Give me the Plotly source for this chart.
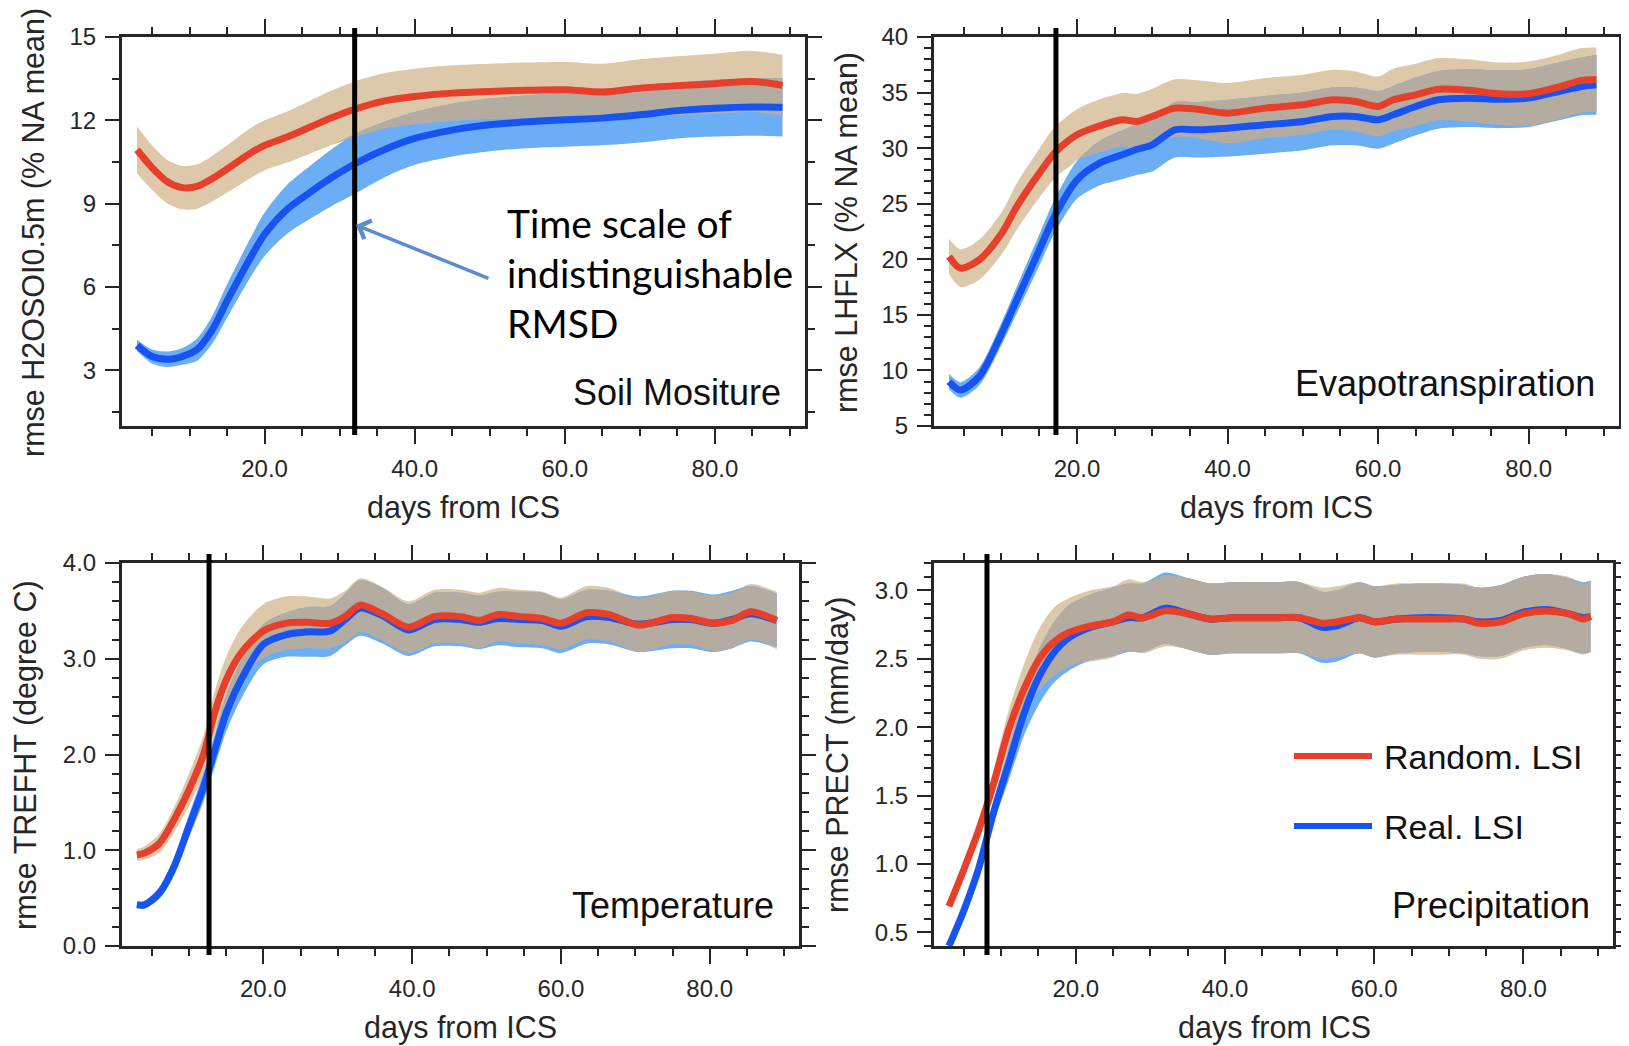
import numpy as np
import plotly.graph_objects as go

W, H = 1629, 1046
OFF = 8                      # default page margin of the html body
FW, FH = W - OFF, H - OFF    # figure size so that it fits the window

# ---------------- data ----------------
# Panel 1: Soil moisture
sm_days = [3, 5, 7, 9, 11, 13, 15, 18, 20, 23, 26, 29, 32, 36, 40, 45, 50, 55, 60, 65, 70, 75, 80, 85, 89]
sm_random = [10.94, 10.3, 9.8, 9.58, 9.62, 9.9, 10.25, 10.8, 11.1, 11.4, 11.75, 12.1, 12.4, 12.7, 12.86, 12.98,
             13.04, 13.08, 13.1, 13.02, 13.16, 13.25, 13.32, 13.4, 13.26]
sm_random_spread = [0.85, 0.8, 0.78, 0.78, 0.8, 0.82, 0.85, 0.9, 0.9, 0.92, 0.95, 0.98, 1.0, 1.0, 1.0, 1.0,
                    1.0, 1.0, 1.0, 1.02, 1.04, 1.06, 1.08, 1.1, 1.1]
sm_real = [3.9, 3.5, 3.4, 3.5, 3.75, 4.45, 5.5, 7.0, 7.9, 8.8, 9.4, 9.95, 10.43, 10.95, 11.35, 11.65,
           11.84, 11.95, 12.02, 12.08, 12.2, 12.35, 12.44, 12.48, 12.47]
sm_real_spread = [0.2, 0.25, 0.28, 0.3, 0.4, 0.5, 0.6, 0.7, 0.78, 0.88, 0.95, 1.02, 1.08, 1.0, 0.95, 0.95,
                  0.95, 0.95, 0.97, 0.98, 1.0, 1.0, 1.02, 1.03, 1.05]

# Panel 2: Evapotranspiration
et_days = [3, 4.5, 7, 10, 12, 15, 17, 20, 23, 26, 28, 30, 33, 36, 40, 45, 50, 54, 57, 60, 62, 65, 68, 72,
           76, 80, 84, 87, 89]
et_random = [20.25, 19.2, 19.95, 22.35, 24.75, 27.75, 29.55, 31.2, 32.0, 32.55, 32.4, 32.85, 33.6, 33.5,
             33.15, 33.6, 33.9, 34.35, 34.2, 33.75, 34.35, 34.8, 35.3, 35.2, 34.9, 34.9, 35.5, 36.1, 36.15]
et_random_spread = [1.6, 1.7, 1.8, 1.9, 2.1, 2.2, 2.3, 2.3, 2.4, 2.4, 2.5, 2.5, 2.6, 2.6, 2.7, 2.7, 2.7,
                    2.7, 2.7, 2.7, 2.8, 2.8, 2.8, 2.8, 2.8, 2.9, 2.9, 2.9, 2.9]
et_real = [9.0, 8.24, 9.44, 13.35, 16.35, 20.85, 23.85, 27.15, 28.65, 29.4, 29.9, 30.3, 31.65, 31.65,
           31.8, 32.1, 32.4, 32.85, 32.85, 32.55, 33.0, 33.75, 34.35, 34.5, 34.4, 34.5, 35.1, 35.55, 35.7]
et_real_spread = [0.7, 0.7, 0.8, 1.0, 1.2, 1.4, 1.5, 1.7, 2.0, 2.2, 2.3, 2.4, 2.5, 2.5, 2.55, 2.6, 2.6,
                  2.6, 2.6, 2.6, 2.6, 2.6, 2.6, 2.6, 2.6, 2.6, 2.6, 2.6, 2.7]

# Panel 3: Temperature
t_days = [3, 4, 6, 8, 10, 12, 13.5, 15, 17, 20, 23, 26, 29, 31, 33, 36, 39.5, 43, 46.5, 49, 51.5, 54.5,
          57.5, 60, 63.5, 66.5, 70.5, 75, 77.5, 80.5, 83, 85.5, 89]
t_random = [0.95, 0.97, 1.07, 1.32, 1.63, 2.01, 2.45, 2.78, 3.06, 3.29, 3.37, 3.38, 3.37, 3.44, 3.56, 3.47,
            3.33, 3.44, 3.44, 3.40, 3.46, 3.44, 3.42, 3.37, 3.48, 3.46, 3.35, 3.43, 3.42, 3.37, 3.40, 3.49, 3.40]
t_random_spread = [0.06, 0.07, 0.1, 0.13, 0.17, 0.2, 0.22, 0.24, 0.26, 0.28, 0.28, 0.27, 0.26, 0.27, 0.28,
                   0.28, 0.27, 0.28, 0.28, 0.29, 0.28, 0.28, 0.28, 0.27, 0.28, 0.28, 0.28, 0.28, 0.28,
                   0.29, 0.29, 0.29, 0.3]
t_real = [0.43, 0.43, 0.55, 0.83, 1.25, 1.67, 2.05, 2.43, 2.78, 3.15, 3.25, 3.28, 3.29, 3.41, 3.53, 3.45,
          3.30, 3.41, 3.41, 3.38, 3.42, 3.41, 3.40, 3.34, 3.44, 3.43, 3.36, 3.41, 3.41, 3.37, 3.41, 3.47, 3.40]
t_real_spread = [0.03, 0.04, 0.06, 0.09, 0.12, 0.15, 0.17, 0.19, 0.2, 0.21, 0.23, 0.26, 0.26, 0.27, 0.29,
                 0.29, 0.27, 0.28, 0.28, 0.28, 0.28, 0.29, 0.29, 0.28, 0.28, 0.28, 0.29, 0.3, 0.3, 0.3,
                 0.3, 0.29, 0.28]

# Panel 4: Precipitation
p_days = [3, 5, 7, 9, 11, 13, 15, 17, 19, 22, 25, 27, 29, 32, 35, 38, 41, 44, 47, 50, 53, 55, 58, 60, 63,
          66, 69, 72, 74, 77, 80, 83, 86, 88, 89]
p_random = [0.69, 0.96, 1.25, 1.59, 1.98, 2.27, 2.49, 2.62, 2.69, 2.74, 2.77, 2.82, 2.80, 2.85, 2.83, 2.79,
            2.80, 2.80, 2.80, 2.80, 2.76, 2.77, 2.80, 2.77, 2.79, 2.79, 2.79, 2.79, 2.76, 2.77, 2.83, 2.85,
            2.83, 2.79, 2.81]
p_random_spread = [0.01, 0.03, 0.06, 0.1, 0.14, 0.18, 0.22, 0.25, 0.25, 0.26, 0.26, 0.26, 0.26, 0.26, 0.26,
                   0.26, 0.26, 0.26, 0.26, 0.26, 0.26, 0.26, 0.26, 0.26, 0.26, 0.26, 0.26, 0.26, 0.26, 0.27,
                   0.27, 0.27, 0.27, 0.26, 0.26]
p_real = [0.40, 0.66, 0.97, 1.38, 1.73, 2.09, 2.36, 2.54, 2.65, 2.73, 2.77, 2.80, 2.80, 2.87, 2.83, 2.79,
          2.80, 2.80, 2.80, 2.80, 2.73, 2.74, 2.80, 2.77, 2.79, 2.80, 2.80, 2.79, 2.77, 2.78, 2.84, 2.86,
          2.83, 2.80, 2.81]
p_real_spread = [0.01, 0.03, 0.05, 0.08, 0.12, 0.16, 0.2, 0.22, 0.24, 0.24, 0.25, 0.25, 0.25, 0.26, 0.26,
                 0.26, 0.26, 0.26, 0.26, 0.26, 0.26, 0.26, 0.26, 0.26, 0.25, 0.25, 0.25, 0.25, 0.25, 0.26,
                 0.26, 0.26, 0.26, 0.26, 0.26]

threshold_days = [32, 17.2, 12.7, 8.1]
panel_names = ["Soil Mositure", "Evapotranspiration", "Temperature", "Precipitation"]
y_titles = ["rmse H2OSOI0.5m (% NA mean)", "rmse LHFLX (% NA mean)",
            "rmse TREFHT (degree C)", "rmse PRECT (mm/day)"]
x_title = "days from ICS"
legend_labels = ["Random. LSI", "Real. LSI"]
note_lines = ["Time scale of", "indistinguishable", "RMSD"]

# ---------------- styling ----------------
FONT = "Liberation Sans, Arial, Helvetica, sans-serif"
RED = "#E63F2A"
BLUE = "#1653F2"
TAN = "#DDC9A9"
LBLUE = "#6BAEF5"
GREY = "#B4ABA1"
AX = "#262626"

panels = [
    dict(days=sm_days, r=sm_random, rs=sm_random_spread, b=sm_real, bs=sm_real_spread,
         dom=(122, 805, 37, 426), yr=[1, 15], dt=3, mdt=1.5, fmt="d",
         ytl=(34, 233), xtl=(464, 507), lab=(783, 392)),
    dict(days=et_days, r=et_random, rs=et_random_spread, b=et_real, bs=et_real_spread,
         dom=(934, 1619, 37, 426), yr=[5, 40], dt=5, mdt=1, fmt="d",
         ytl=(847, 232), xtl=(1276, 507), lab=(1597, 383)),
    dict(days=t_days, r=t_random, rs=t_random_spread, b=t_real, bs=t_real_spread,
         dom=(122, 799, 563, 946), yr=[0, 4], dt=1, mdt=0.2, fmt=".1f",
         ytl=(25, 755), xtl=(460, 1027), lab=(776, 905)),
    dict(days=p_days, r=p_random, rs=p_random_spread, b=p_real, bs=p_real_spread,
         dom=(934, 1613, 563, 946), yr=[0.4, 3.2], dt=0.5, mdt=0.1, fmt=".1f",
         ytl=(837, 755), xtl=(1274, 1027), lab=(1592, 905)),
]


def px(x):
    return (x - OFF) / FW


def py(y):
    return 1 - (y - OFF) / FH


fig = go.Figure()
layout = dict(width=FW, height=FH, margin=dict(l=0, r=0, t=0, b=0, pad=0), autosize=False,
              paper_bgcolor="white", plot_bgcolor="white", showlegend=False,
              font=dict(family=FONT, color=AX))
annotations = []
shapes = []

for i, p in enumerate(panels):
    n = i + 1
    xa = "x" if n == 1 else f"x{n}"
    ya = "y" if n == 1 else f"y{n}"
    d = np.array(p["days"], dtype=float)
    r = np.array(p["r"]); rs = np.array(p["rs"])
    b = np.array(p["b"]); bs = np.array(p["bs"])
    r_lo, r_hi = r - rs, r + rs
    b_lo, b_hi = b - bs, b + bs
    o_lo = np.maximum(r_lo, b_lo)
    o_hi = np.minimum(r_hi, b_hi)
    o_hi = np.maximum(o_hi, o_lo)

    def band(lo, hi, color):
        fig.add_trace(go.Scatter(x=d, y=lo, xaxis=xa, yaxis=ya, mode="lines",
                                 line=dict(width=0, shape="spline", smoothing=0.8),
                                 hoverinfo="skip"))
        fig.add_trace(go.Scatter(x=d, y=hi, xaxis=xa, yaxis=ya, mode="lines",
                                 line=dict(width=0, shape="spline", smoothing=0.8),
                                 fill="tonexty", fillcolor=color, hoverinfo="skip"))

    band(r_lo, r_hi, TAN)
    band(b_lo, b_hi, LBLUE)
    band(o_lo, o_hi, GREY)
    fig.add_trace(go.Scatter(x=d, y=b, xaxis=xa, yaxis=ya, mode="lines", name=legend_labels[1],
                             line=dict(color=BLUE, width=7, shape="spline", smoothing=0.8)))
    fig.add_trace(go.Scatter(x=d, y=r, xaxis=xa, yaxis=ya, mode="lines", name=legend_labels[0],
                             line=dict(color=RED, width=7, shape="spline", smoothing=0.8)))

    x0, x1, y0, y1 = p["dom"]
    common = dict(showline=True, linewidth=3, linecolor=AX, mirror="ticks", ticks="outside",
                  tickwidth=2, tickcolor=AX, showgrid=False, zeroline=False, automargin=False,
                  tickfont=dict(family=FONT, size=24, color=AX))
    layout["xaxis" if n == 1 else f"xaxis{n}"] = dict(
        common, domain=[px(x0), px(x1)], anchor=ya, range=[1, 92], tick0=0, dtick=20,
        tickformat=".1f", ticklen=15, ticklabelstandoff=4,
        minor=dict(ticks="outside", dtick=5, tick0=0, ticklen=7, tickwidth=1.5, tickcolor=AX))
    layout["yaxis" if n == 1 else f"yaxis{n}"] = dict(
        common, domain=[py(y1), py(y0)], anchor=xa, range=p["yr"], tick0=0, dtick=p["dt"],
        tickformat=p["fmt"], ticklen=14, ticklabelstandoff=4,
        minor=dict(ticks="outside", dtick=p["mdt"], tick0=0, ticklen=7, tickwidth=1.5, tickcolor=AX))

    # vertical threshold line
    shapes.append(dict(type="line", xref=xa, yref="paper", x0=threshold_days[i], x1=threshold_days[i],
                       y0=py(y1 + 9), y1=py(y0 - 9), line=dict(color="black", width=5)))

    # titles and labels
    annotations.append(dict(text=y_titles[i], xref="paper", yref="paper",
                            x=px(p["ytl"][0]), y=py(p["ytl"][1]), textangle=-90, showarrow=False,
                            xanchor="center", yanchor="middle", font=dict(family=FONT, size=30.5, color=AX)))
    annotations.append(dict(text=x_title, xref="paper", yref="paper", x=px(p["xtl"][0]), y=py(p["xtl"][1]),
                            showarrow=False, xanchor="center", yanchor="middle",
                            font=dict(family=FONT, size=30.5, color=AX)))
    annotations.append(dict(text=panel_names[i], xref="paper", yref="paper", x=px(p["lab"][0]),
                            y=py(p["lab"][1]), showarrow=False, xanchor="right", yanchor="middle",
                            font=dict(family=FONT, size=36, color="#111")))

# note text + arrow
for k, (line, yy) in enumerate(zip(note_lines, [223, 273, 323])):
    annotations.append(dict(text=line, xref="paper", yref="paper", x=px(505), y=py(yy), showarrow=False,
                            xanchor="left", yanchor="middle", font=dict(family="Lato, Carlito, sans-serif",
                                                                        size=39, color="black")))
annotations.append(dict(text="", xref="paper", yref="paper", x=px(356), y=py(225), ax=134, ay=54,
                        showarrow=True, arrowhead=4, arrowsize=1.1, arrowwidth=3.5, arrowcolor="#5A8DCF",
                        standoff=0))

# legend (drawn manually in panel 4)
for lab, col, yy in zip(legend_labels, [RED, BLUE], [756, 826]):
    shapes.append(dict(type="line", xref="paper", yref="paper", x0=px(1294), x1=px(1372), y0=py(yy),
                       y1=py(yy), line=dict(color=col, width=6)))
    annotations.append(dict(text=lab, xref="paper", yref="paper", x=px(1382), y=py(yy + 1), showarrow=False,
                            xanchor="left", yanchor="middle", font=dict(family=FONT, size=34, color="#111")))

layout["shapes"] = shapes
layout["annotations"] = annotations
fig.update_layout(**layout)
fig.write_html("out.html")
